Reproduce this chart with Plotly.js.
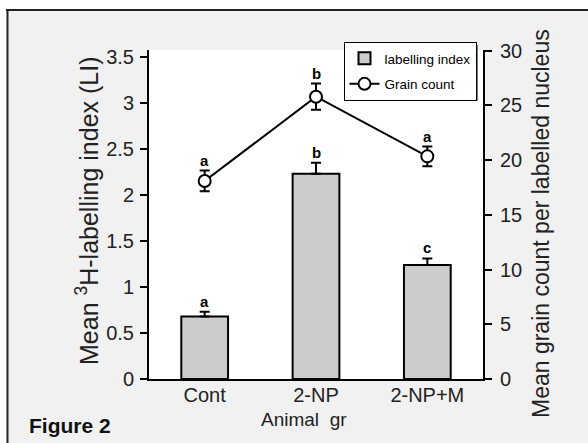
<!DOCTYPE html>
<html>
<head>
<meta charset="utf-8">
<script src="https://cdn.plot.ly/plotly-3.0.1.min.js"></script>
<style>html,body{margin:0;padding:0;background:#fff;}#chart{width:588px;height:443px;}</style>
</head>
<body>
<div id="chart"></div>
<script>
// ---- data ----
const categories = ['Cont', '2-NP', '2-NP+M'];
const liMean = [0.68, 2.23, 1.24];
const liErr = [0.05, 0.12, 0.07];
const liLetters = ['a', 'b', 'c'];
const grainMean = [18.1, 25.8, 20.35];
const grainErr = [0.95, 1.2, 0.9];
const grainLetters = ['a', 'b', 'a'];
const leftTicks = [0, 0.5, 1, 1.5, 2, 2.5, 3, 3.5];
const rightTicks = [0, 5, 10, 15, 20, 25, 30];

// ---- layout geometry ----
const W = 588, H = 443;
const M = {l: 149, r: 105, t: 50, b: 64};
const pw = W - M.l - M.r, ph = H - M.t - M.b;
const px = x => (x - M.l) / pw;
const py = y => (H - M.b - y) / ph;

const SANS = 'Liberation Sans';

const barTrace = {
  type: 'bar', x: categories, y: liMean, name: 'labelling index', legendgroup: 'g1',
  width: 0.42,
  marker: {color: '#cccccc', line: {color: '#000', width: 2}},
  error_y: {type: 'data', array: liErr, arrayminus: liErr.map(() => 0), symmetric: false,
            color: '#000', thickness: 2, width: 5},
  yaxis: 'y'
};
const lineTrace = {
  type: 'scatter', mode: 'lines+markers', x: categories, y: grainMean, name: 'Grain count', legendgroup: 'g2',
  line: {color: '#000', width: 2},
  marker: {symbol: 'circle', size: 12, color: '#fff', line: {color: '#000', width: 2}},
  error_y: {type: 'data', array: grainErr, color: '#000', thickness: 2, width: 5},
  yaxis: 'y2'
};

const letterFont = {family: SANS, size: 15, color: '#000', weight: 'bold'};
const annotations = [];
categories.forEach((c, i) => {
  annotations.push({x: c, y: liMean[i] + liErr[i], xref: 'x', yref: 'y', text: liLetters[i],
    showarrow: false, yanchor: 'bottom', yshift: 0, font: letterFont});
  annotations.push({x: c, y: grainMean[i] + grainErr[i], xref: 'x', yref: 'y2', text: grainLetters[i],
    showarrow: false, yanchor: 'bottom', yshift: 0, font: letterFont});
});
annotations.push({xref: 'paper', yref: 'paper', x: px(87), y: py(211), text: 'Mean <sup>3</sup>H-labelling index (LI)',
  textangle: -90, showarrow: false, xanchor: 'center', yanchor: 'middle', font: {family: SANS, size: 25, color: '#222'}});
annotations.push({xref: 'paper', yref: 'paper', x: px(541), y: py(224), text: 'Mean grain count per labelled nucleus',
  textangle: -90, showarrow: false, xanchor: 'center', yanchor: 'middle', font: {family: SANS, size: 23, color: '#222'}});
annotations.push({xref: 'paper', yref: 'paper', x: px(304), y: py(419), text: 'Animal&nbsp; gr',
  showarrow: false, xanchor: 'center', yanchor: 'middle', font: {family: SANS, size: 19, color: '#222'}});
annotations.push({xref: 'paper', yref: 'paper', x: px(27), y: py(425), text: 'Figure 2',
  showarrow: false, xanchor: 'left', yanchor: 'middle', font: {family: SANS, size: 21, color: '#111', weight: 'bold'}});

const shapes = [
  {type: 'rect', xref: 'paper', yref: 'paper', x0: px(-5), x1: px(W + 5), y0: py(9), y1: py(-5), fillcolor: '#fff', line: {width: 0}, layer: 'below'},
  {type: 'rect', xref: 'paper', yref: 'paper', x0: px(-5), x1: px(6.5), y0: py(H + 5), y1: py(-5), fillcolor: '#fff', line: {width: 0}, layer: 'below'},
  {type: 'line', xref: 'paper', yref: 'paper', x0: px(6), x1: px(W + 5), y0: py(10), y1: py(10), line: {color: '#222', width: 2}, layer: 'below'},
  {type: 'line', xref: 'paper', yref: 'paper', x0: px(7.5), x1: px(7.5), y0: py(9), y1: py(H + 5), line: {color: '#222', width: 2}, layer: 'below'},
  // legend shadow
  {type: 'rect', xref: 'paper', yref: 'paper', x0: px(347), x1: px(477.5), y0: py(101), y1: py(45), fillcolor: '#000', line: {width: 0}, layer: 'above'}
];

const layout = {
  width: W, height: H,
  margin: M,
  paper_bgcolor: '#f1f1f1', plot_bgcolor: '#fff',
  showlegend: true,
  legend: {x: px(343.5), y: py(42), xanchor: 'left', yanchor: 'top', bgcolor: '#fff',
           traceorder: 'grouped', tracegroupgap: 5,
           bordercolor: '#000', borderwidth: 1, font: {family: SANS, size: 13.5, color: '#000'}},
  xaxis: {type: 'category', range: [-0.5, 2.5], showline: true, linecolor: '#000', linewidth: 2,
          ticks: '', showgrid: false, zeroline: false, tickfont: {family: SANS, size: 20, color: '#222'},
          ticklabelstandoff: -3},
  yaxis: {range: [0, 3.576], tickvals: leftTicks, ticktext: leftTicks.map(String), showline: true, linecolor: '#000', linewidth: 2,
          ticks: 'outside', ticklen: 7, tickwidth: 2, tickcolor: '#000', showgrid: false, zeroline: false,
          tickfont: {family: SANS, size: 20, color: '#222'}, ticklabelstandoff: 2},
  yaxis2: {range: [0, 30.07], overlaying: 'y', side: 'right', tickvals: rightTicks, ticktext: rightTicks.map(String),
           showline: true, linecolor: '#000', linewidth: 2, ticks: 'outside', ticklen: 7, tickwidth: 2, tickcolor: '#000',
           showgrid: false, zeroline: false, tickfont: {family: SANS, size: 20, color: '#222'}, ticklabelstandoff: 4},
  annotations: annotations,
  shapes: shapes
};

Plotly.newPlot('chart', [barTrace, lineTrace], layout, {displayModeBar: false, staticPlot: true});
</script>
</body>
</html>
